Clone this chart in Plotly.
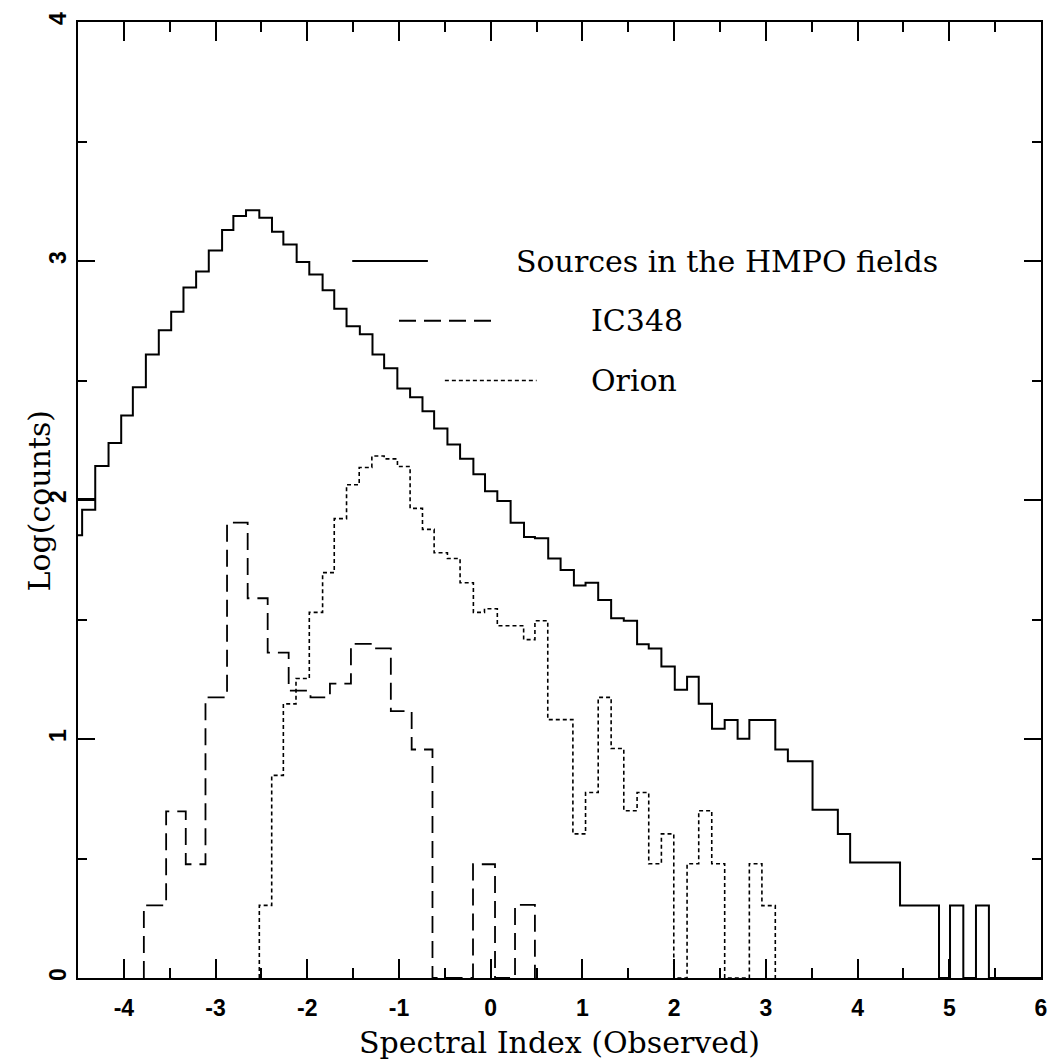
import plotly.graph_objects as go

# ---------------- data (log10 counts per bin) ----------------
hmpo_edges = [-4.59, -4.455, -4.312, -4.167, -4.029, -3.902, -3.760, -3.619, -3.484, -3.350,
              -3.212, -3.074, -2.929, -2.806, -2.668, -2.523, -2.385, -2.261, -2.116, -1.978,
              -1.833, -1.706, -1.572, -1.427, -1.289, -1.162, -1.018, -0.879, -0.744, -0.617,
              -0.472, -0.334, -0.189, -0.062, 0.072, 0.217, 0.363, 0.482, 0.627, 0.762,
              0.907, 1.034, 1.172, 1.313, 1.451, 1.596, 1.723, 1.861, 2.007, 2.141,
              2.268, 2.413, 2.551, 2.692, 2.820, 3.103, 3.240, 3.509, 3.785, 3.919,
              4.463, 4.888, 5.008, 5.153, 5.291, 5.432, 6.1]
hmpo_log = [1.852, 1.959, 2.142, 2.239, 2.354, 2.472, 2.609, 2.710, 2.788, 2.889,
            2.956, 3.044, 3.130, 3.188, 3.212, 3.181, 3.122, 3.069, 2.996, 2.943,
            2.878, 2.800, 2.727, 2.693, 2.609, 2.551, 2.467, 2.430, 2.371, 2.299,
            2.232, 2.173, 2.108, 2.037, 1.996, 1.905, 1.845, 1.840, 1.755, 1.707,
            1.642, 1.654, 1.582, 1.505, 1.495, 1.396, 1.379, 1.303, 1.206, 1.260,
            1.147, 1.043, 1.080, 1.001, 1.080, 0.956, 0.907, 0.704, 0.603, 0.483,
            0.303, 0.0, 0.303, 0.0, 0.303, 0.0]
# short extra segment drawn at the left edge of the HMPO histogram
hmpo_extra_edges = [-4.7, -4.312]
hmpo_extra_log = [2.004]

ic348_edges = [-3.782, -3.539, -3.325, -3.110, -2.875, -2.650, -2.432, -2.203, -1.965, -1.753,
               -1.524, -1.296, -1.089, -0.862, -0.635, -0.193, 0.047, 0.265, 0.482]
ic348_log = [0.304, 0.697, 0.476, 1.174, 1.905, 1.589, 1.361, 1.202, 1.174, 1.232,
             1.398, 1.379, 1.117, 0.956, 0.0, 0.476, 0.0, 0.306]

orion_edges = [-2.523, -2.388, -2.261, -2.123, -1.978, -1.833, -1.706, -1.572, -1.434, -1.296,
               -1.162, -1.017, -0.879, -0.744, -0.617, -0.472, -0.334, -0.189, -0.068, 0.072,
               0.359, 0.482, 0.622, 0.896, 1.034, 1.172, 1.313, 1.451, 1.596, 1.723,
               1.861, 1.996, 2.141, 2.268, 2.410, 2.551, 2.820, 2.957, 3.103]
orion_log = [0.304, 0.848, 1.147, 1.253, 1.530, 1.696, 1.922, 2.064, 2.136, 2.184,
             2.172, 2.140, 1.965, 1.877, 1.779, 1.755, 1.654, 1.530, 1.545, 1.474,
             1.416, 1.495, 1.081, 0.603, 0.776, 1.174, 0.960, 0.700, 0.776, 0.478,
             0.603, 0.0, 0.478, 0.700, 0.478, 0.0, 0.478, 0.303]

series_names = ["Sources in the HMPO fields", "IC348", "Orion"]
x_tickvals = [-4, -3, -2, -1, 0, 1, 2, 3, 4, 5, 6]
x_ticktext = ["-4", "-3", "-2", "-1", "0", "1", "2", "3", "4", "5", "6"]
y_tickvals = [0, 1, 2, 3, 4]
y_ticktext = ["0", "1", "2", "3", "4"]


def step_path(edges, levels):
    xs, ys = [edges[0]], [0.0]
    for i, v in enumerate(levels):
        xs += [edges[i], edges[i + 1]]
        ys += [v, v]
    xs.append(edges[-1])
    ys.append(0.0)
    return xs, ys


SERIF = "DejaVu Serif"
SANS = "Liberation Sans"
BLACK = "#000000"

styles = {
    "solid": dict(color=BLACK, width=2, dash="solid"),
    "dashed": dict(color=BLACK, width=1.8, dash="17px,8px"),
    "dotted": dict(color=BLACK, width=1.6, dash="4px,3px"),
}

fig = go.Figure()

hx, hy = step_path(hmpo_edges, hmpo_log)
fig.add_trace(go.Scatter(x=hx, y=hy, mode="lines", line=styles["solid"], showlegend=False,
                         name=series_names[0], hoverinfo="skip"))
ex, ey = step_path(hmpo_extra_edges, hmpo_extra_log)
fig.add_trace(go.Scatter(x=ex[1:-1], y=ey[1:-1], mode="lines", line=styles["solid"],
                         showlegend=False, hoverinfo="skip"))
ix, iy = step_path(ic348_edges, ic348_log)
fig.add_trace(go.Scatter(x=ix, y=iy, mode="lines", line=styles["dashed"], showlegend=False,
                         name=series_names[1], hoverinfo="skip"))
ox, oy = step_path(orion_edges, orion_log)
fig.add_trace(go.Scatter(x=ox, y=oy, mode="lines", line=styles["dotted"], showlegend=False,
                         name=series_names[2], hoverinfo="skip"))

# in-plot key (line samples + labels)
key = [
    (series_names[0], "solid", (-1.51, -0.685), 3.0, 0.255),
    (series_names[1], "dashed", (-1.0, 0.02), 2.75, 1.075),
    (series_names[2], "dotted", (-0.50, 0.50), 2.5, 1.075),
]
for name, st, (x0, x1), yk, xt in key:
    fig.add_trace(go.Scatter(x=[x0, x1], y=[yk, yk], mode="lines", line=styles[st],
                             showlegend=False, hoverinfo="skip"))
    fig.add_annotation(x=xt, y=yk, xref="x", yref="y", text=name, showarrow=False,
                       xanchor="left", yanchor="middle",
                       font=dict(family=SERIF, size=30, color=BLACK))

# axis titles
fig.add_annotation(x=0.5, y=-0.0675, xref="paper", yref="paper",
                   text="Spectral Index (Observed)", showarrow=False,
                   xanchor="center", yanchor="middle",
                   font=dict(family=SERIF, size=30, color=BLACK))
fig.add_annotation(x=-0.040, y=0.5, xref="paper", yref="paper",
                   text="Log(counts)", showarrow=False, textangle=-90,
                   xanchor="center", yanchor="middle",
                   font=dict(family=SERIF, size=30, color=BLACK))

fig.update_layout(
    width=1062, height=1064,
    margin=dict(l=78, r=21, t=14, b=86, pad=0),
    paper_bgcolor="white", plot_bgcolor="white",
    showlegend=False,
)
fig.update_xaxes(
    range=[-4.5, 6], showgrid=False, zeroline=False,
    showline=True, linecolor=BLACK, linewidth=1.5, mirror="ticks",
    ticks="inside", ticklen=19, tickwidth=1.5, tickcolor=BLACK,
    tickmode="array", tickvals=x_tickvals, ticktext=x_ticktext,
    tickfont=dict(family=SANS, size=23, color=BLACK, weight="bold"),
    ticklabelstandoff=9,
    minor=dict(ticks="inside", dtick=0.5, tick0=0, ticklen=10, tickwidth=1.5,
               tickcolor=BLACK, showgrid=False),
)
fig.update_yaxes(
    range=[0, 4], showgrid=False, zeroline=False,
    showline=True, linecolor=BLACK, linewidth=1.5, mirror="ticks",
    ticks="inside", ticklen=17, tickwidth=1.5, tickcolor=BLACK,
    tickmode="array", tickvals=y_tickvals, ticktext=y_ticktext,
    tickangle=-90,
    tickfont=dict(family=SANS, size=23, color=BLACK, weight="bold"),
    ticklabelstandoff=1,
    minor=dict(ticks="inside", dtick=0.5, tick0=0, ticklen=9, tickwidth=1.5,
               tickcolor=BLACK, showgrid=False),
)

fig.write_html("out.html")
